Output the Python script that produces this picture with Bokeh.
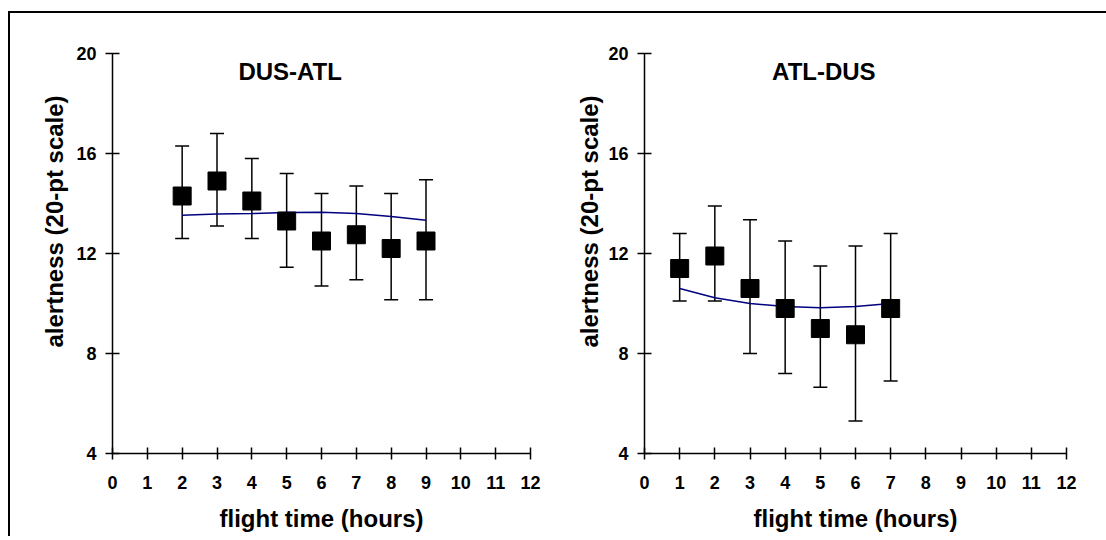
from bokeh.plotting import figure
from bokeh.layouts import row, column
from bokeh.models import ColumnDataSource, Whisker, TeeHead, Title, FixedTicker, Div
from bokeh.core.properties import value
from bokeh.embed import file_html
from bokeh.resources import INLINE

# ---- data ----
x_ticks = [0, 1, 2, 3, 4, 5, 6, 7, 8, 9, 10, 11, 12]
y_ticks = [4, 8, 12, 16, 20]

dus_atl_title = "DUS-ATL"
dus_atl_hours = [2, 3, 4, 5, 6, 7, 8, 9]
dus_atl_mean = [14.3, 14.9, 14.1, 13.3, 12.5, 12.75, 12.2, 12.5]
dus_atl_upper = [16.3, 16.8, 15.8, 15.2, 14.4, 14.7, 14.4, 14.95]
dus_atl_lower = [12.6, 13.1, 12.6, 11.45, 10.7, 10.95, 10.15, 10.15]
dus_atl_fit = [13.53, 13.58, 13.6, 13.64, 13.65, 13.6, 13.48, 13.33]

atl_dus_title = "ATL-DUS"
atl_dus_hours = [1, 2, 3, 4, 5, 6, 7]
atl_dus_mean = [11.4, 11.9, 10.6, 9.8, 9.0, 8.75, 9.8]
atl_dus_upper = [12.8, 13.9, 13.35, 12.5, 11.5, 12.3, 12.8]
atl_dus_lower = [10.1, 10.1, 8.0, 7.2, 6.65, 5.3, 6.9]
atl_dus_fit = [10.6, 10.23, 10.0, 9.88, 9.83, 9.88, 10.0]

x_label = "flight time (hours)"
y_label = "alertness (20-pt scale)"

FONT = "Liberation Sans"


def make_panel(title, hours, mean, upper, lower, fit, frame_w, border_left, border_right, ylab_standoff):
    p = figure(frame_width=frame_w, frame_height=400, x_range=(0, 12), y_range=(4, 20),
               output_backend="svg", toolbar_location=None,
               min_border_left=border_left, min_border_right=border_right,
               min_border_top=40, min_border_bottom=70)
    p.outline_line_color = None
    p.xgrid.grid_line_color = None
    p.ygrid.grid_line_color = None
    p.background_fill_color = "white"
    p.border_fill_color = "white"

    for ax in (p.xaxis[0], p.yaxis[0]):
        ax.axis_line_color = "black"
        ax.axis_line_width = 1.5
        ax.major_tick_line_color = "black"
        ax.major_tick_line_width = 1.5
        ax.minor_tick_line_color = None
        ax.major_label_text_font = FONT
        ax.major_label_text_font_style = "bold"
        ax.major_label_text_font_size = "18px"
        ax.major_label_text_color = "black"

    p.xaxis.ticker = FixedTicker(ticks=x_ticks)
    p.yaxis.ticker = FixedTicker(ticks=y_ticks)
    p.xaxis.major_tick_in = 6
    p.xaxis.major_tick_out = 6
    p.yaxis.major_tick_in = 7
    p.yaxis.major_tick_out = 7
    p.xaxis.major_label_standoff = 16
    p.yaxis.major_label_standoff = 9

    p.xaxis.axis_label = x_label
    p.xaxis.axis_label_text_font = FONT
    p.xaxis.axis_label_text_font_style = "bold"
    p.xaxis.axis_label_text_font_size = "24px"
    p.xaxis.axis_label_text_color = "black"
    p.xaxis.axis_label_standoff = 13

    ylab = Title(text=y_label, align="left", offset=106, standoff=ylab_standoff,
                 text_font=FONT, text_font_style="bold", text_font_size="24px",
                 text_color="black")
    p.add_layout(ylab, "left")

    src = ColumnDataSource(dict(x=hours, y=mean, upper=upper, lower=lower, fit=fit))

    w = Whisker(base="x", upper="upper", lower="lower", source=src,
                line_color="black", line_width=1.5,
                upper_head=TeeHead(size=14, line_color="black", line_width=1.5),
                lower_head=TeeHead(size=14, line_color="black", line_width=1.5))
    p.add_layout(w)

    p.line("x", "fit", source=src, line_color="#000080", line_width=1.5)
    p.scatter("x", "y", source=src, marker="square", size=18,
              fill_color="black", line_color="black")

    p.text(x=[5.1], y=[19.3], text=[title], text_font=value(FONT),
           text_font_style="bold", text_font_size="24px",
           text_align="center", text_baseline="middle", text_color="black")
    return p


def black_bar(w, h):
    return Div(text="", width=w, height=h, margin=0,
               styles={"background-color": "black", "width": f"{w}px",
                       "height": f"{h}px", "padding": "0"})


p1 = make_panel(dus_atl_title, dus_atl_hours, dus_atl_mean, dus_atl_upper,
                dus_atl_lower, dus_atl_fit, 418, 102, 40, 12)
p2 = make_panel(atl_dus_title, atl_dus_hours, atl_dus_mean, atl_dus_upper,
                atl_dus_lower, atl_dus_fit, 422, 74, 30, 5)

top_bar = black_bar(1098, 2)
left_bar = black_bar(2, 523)

layout = column(top_bar, row(left_bar, p1, p2), margin=(11, 0, 0, 8))

open("out.html", "w").write(file_html(layout, INLINE))
